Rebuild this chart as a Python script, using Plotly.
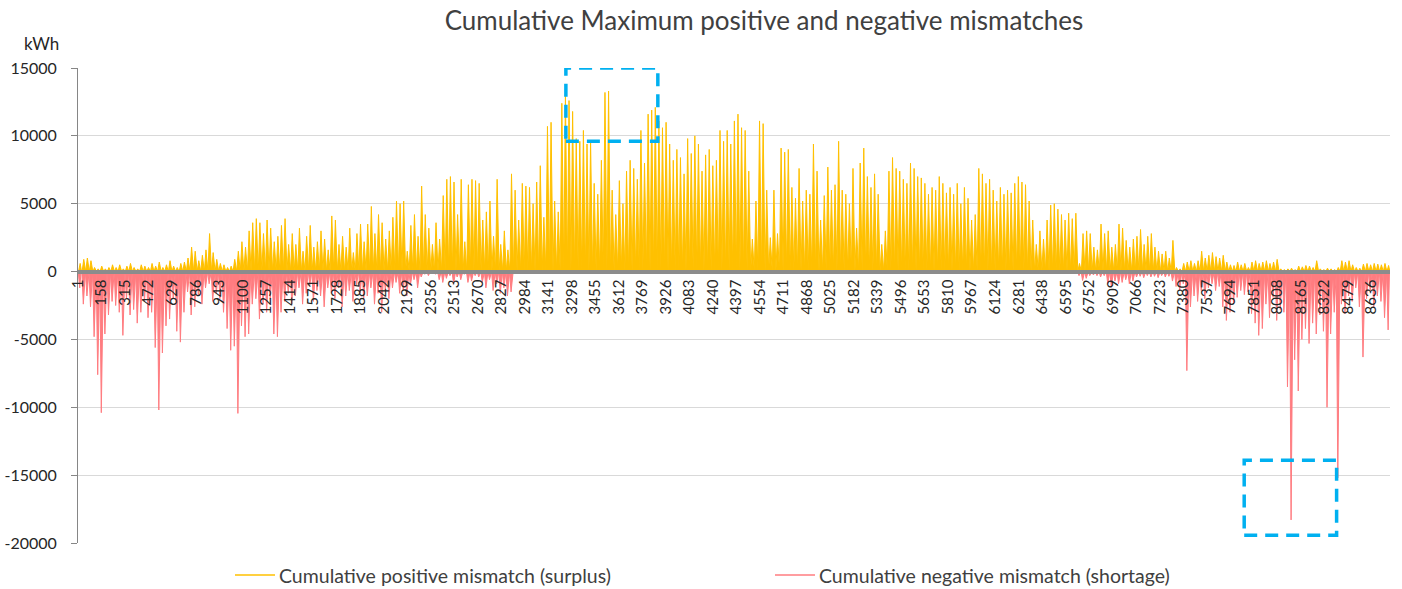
import plotly.graph_objects as go

# Daily peak of the cumulative positive mismatch (surplus), kWh, one value per day of the year
surplus_daily_peak = [
    600, 900, 1000, 800, 300, 200, 400, 200, 300, 500,
    300, 500, 200, 400, 600, 300, 200, 500, 400, 300,
    600, 400, 700, 300, 500, 800, 400, 300, 600, 700,
    1000, 1800, 1500, 800, 1200, 1600, 2800, 1400, 900, 600,
    500, 300, 400, 900, 1500, 2200, 1800, 3000, 3600, 3900,
    3600, 2800, 3800, 3200, 2200, 2600, 3400, 3900, 2000, 2800,
    2000, 3200, 1500, 2600, 3400, 1800, 2200, 3000, 2400, 1600,
    4100, 3800, 2000, 2600, 1800, 3200, 1400, 2800, 3500, 2200,
    3500, 4800, 2800, 4200, 3600, 2400, 3000, 4000, 5200, 5000,
    5200, 1500, 3400, 4200, 2600, 6300, 4200, 3200, 2000, 3600,
    2400, 5600, 6800, 7000, 6600, 4200, 6800, 2200, 6400, 6800,
    6700, 6500, 3800, 4400, 5200, 2600, 6800, 2000, 3000, 1600,
    7200, 6000, 3800, 6500, 6300, 6200, 5000, 6600, 7800, 4000,
    10700, 11000, 5200, 4400, 12400, 13100, 12600, 11800, 9800, 9600,
    10400, 9400, 9600, 6500, 5700, 8200, 13200, 13300, 6000, 4200,
    6700, 5000, 7400, 8200, 7600, 6800, 10400, 8000, 11600, 11900,
    12100, 11100, 10600, 11000, 9400, 8200, 9000, 8400, 7200, 9800,
    8700, 10000, 9400, 7400, 8600, 9000, 7800, 8200, 10400, 9600,
    10400, 9400, 11100, 11600, 10600, 10400, 7400, 2400, 5200, 11100,
    10900, 6000, 2500, 6000, 2800, 9100, 8800, 9000, 6200, 5400,
    7600, 5200, 6000, 5700, 9400, 7400, 3800, 5600, 7700, 6000,
    6400, 9600, 6000, 5700, 5000, 7600, 3200, 8000, 9100, 7000,
    6200, 7200, 5700, 2000, 3000, 7400, 8400, 7600, 7400, 6800,
    6500, 8000, 7600, 7000, 6900, 6500, 5700, 6200, 6000, 7000,
    6500, 5800, 6200, 5700, 6500, 5000, 6200, 5400, 3800, 4200,
    7600, 7200, 6500, 6800, 6000, 5200, 6200, 5700, 6000, 5800,
    6500, 7000, 6600, 6400, 5200, 3800, 2000, 3000, 2400, 3800,
    4900, 5000, 4600, 4200, 3800, 4300, 3900, 4300, 600, 2800,
    3000, 2800, 1800, 1600, 3500, 2800, 3000, 1800, 2000, 3500,
    3200, 2300, 1800, 2400, 2600, 3100, 2000, 2600, 2800, 1800,
    1500, 1300, 1500, 1000, 2300, 300, 200, 600, 700, 800,
    600, 800, 1500, 1000, 1200, 1400, 1100, 1000, 1200, 700,
    500, 450, 700, 500, 600, 300, 700, 800, 600, 700,
    800, 600, 700, 900, 200, 150, 200, 250, 150, 400,
    350, 450, 400, 300, 800, 200, 150, 250, 200, 150,
    300, 800, 700, 800, 500, 300, 250, 550, 600, 500,
    600, 550, 500, 600, 450,
]

# Daily peak of the cumulative negative mismatch (shortage), kWh, one value per day of the year
shortage_daily_peak = [
    -1200, -2400, -1800, -2600, -4800, -7600, -10400, -4600, -3200, -2200,
    -2500, -3000, -4700, -2000, -3200, -2800, -3800, -3000, -2200, -3400,
    -3000, -5600, -10200, -6000, -4000, -3500, -2000, -4400, -5200, -3000,
    -1500, -3200, -2600, -1800, -2400, -1200, -900, -2200, -1600, -2000,
    -3000, -4200, -5800, -5500, -10450, -4000, -4800, -4600, -2400, -2000,
    -3500, -2400, -3000, -2000, -4600, -4800, -3000, -2200, -1600, -2400,
    -1800, -1200, -2400, -1600, -1000, -2200, -1400, -1800, -2600, -1200,
    -1600, -2000, -1200, -2600, -1800, -1400, -2200, -1000, -1600, -2000,
    -1800, -1200, -2400, -1600, -3000, -1400, -2000, -1200, -800, -1600,
    -1400, -1800, -1000, -600, -1200, -400, -200, -300, -100, -200,
    -600, -800, -500, -300, -900, -400, -600, -200, -800, -700,
    -300, -400, -800, -1200, -600, -1400, -900, -1600, -1200, -1800,
    -1500, 0, 0, 0, 0, 0, 0, 0, 0, 0,
    0, 0, 0, 0, 0, 0, 0, 0, 0, 0,
    0, 0, 0, 0, 0, 0, 0, 0, 0, 0,
    0, 0, 0, 0, 0, 0, 0, 0, 0, 0,
    0, 0, 0, 0, 0, 0, 0, 0, 0, 0,
    0, 0, 0, 0, 0, 0, 0, 0, 0, 0,
    0, 0, 0, 0, 0, 0, 0, 0, 0, 0,
    0, 0, 0, 0, 0, 0, 0, 0, 0, 0,
    0, 0, 0, 0, 0, 0, 0, 0, 0, 0,
    0, 0, 0, 0, 0, 0, 0, 0, 0, 0,
    0, 0, 0, 0, 0, 0, 0, 0, 0, 0,
    0, 0, 0, 0, 0, 0, 0, 0, 0, 0,
    0, 0, 0, 0, 0, 0, 0, 0, 0, 0,
    0, 0, 0, 0, 0, 0, 0, 0, 0, 0,
    0, 0, 0, 0, 0, 0, 0, 0, 0, 0,
    0, 0, 0, 0, 0, 0, 0, 0, -300, -660,
    -500, -300, -250, -300, -400, -300, -900, -1150, -700, -900,
    -800, -600, -900, -700, -400, -350, -450, -300, -400, -350,
    -450, -300, -400, -350, -700, -1100, -1400, -900, -7300, -2600,
    -1800, -2200, -1400, -2000, -1200, -900, -1400, -1100, -2600, -3600,
    -3000, -2400, -1900, -1400, -1700, -1500, -3100, -3800, -4700, -4200,
    -2400, -3400, -1900, -3600, -2800, -3000, -8500, -18300, -6500, -8800,
    -5000, -4200, -5300, -3800, -4600, -3200, -4400, -10000, -4600, -3000,
    -15200, -2400, -3100, -1800, -2200, -1200, -2600, -6300, -2000, -1400,
    -2600, -1800, -2200, -3400, -4300,
]

HOURS_IN_YEAR = 8760
HOURS_PER_DAY = 24

# Hour-axis category labels (every 157th hour, starting at hour 1)
hour_tick_values = list(range(1, HOURS_IN_YEAR + 1, 157))
hour_tick_labels = [str(h) for h in hour_tick_values]

# Value-axis ticks
kwh_tick_values = [15000, 10000, 5000, 0, -5000, -10000, -15000, -20000]
kwh_tick_labels = ["15000", "10000", "5000", "0", "-5000", "-10000", "-15000", "-20000"]

# Series names shown in the legend row
series_names = [
    "Cumulative positive mismatch (surplus)",
    "Cumulative negative mismatch (shortage)",
]

# Highlighted regions (hour range, kWh range)
highlight_regions = [
    {"hours": (3258, 3872), "kwh": (9600, 15000)},
    {"hours": (7787, 8404), "kwh": (-19430, -13910)},
]

SURPLUS_COLOR = "#FFC000"
SHORTAGE_COLOR = "#FF7C80"
HIGHLIGHT_COLOR = "#00B0F0"
FONT = "Lato, 'Open Sans', sans-serif"

# Each day is drawn as a rise-and-return profile: zero, the day's peak, zero.
SURPLUS_PROFILE_HOURS = (3, 14, 23)
SHORTAGE_PROFILE_HOURS = (1, 11, 20)

# Plot-area geometry in pixels
W, H = 1402, 589
M_L, M_R, M_T, M_B = 78, 12, 68, 46
PLOT_W = W - M_L - M_R
PLOT_H = H - M_T - M_B


def px_x(px):
    return (px - M_L) / PLOT_W


def px_y(py):
    return (H - M_B - py) / PLOT_H


def daily_profile(peaks, profile_hours):
    xs, ys = [], []
    for day, peak in enumerate(peaks):
        start, top, end = (day * HOURS_PER_DAY + h + 1 for h in profile_hours)
        xs += [start, top, end]
        ys += [0, peak, 0]
    return xs, ys


sx, sy = daily_profile(surplus_daily_peak, SURPLUS_PROFILE_HOURS)
nx, ny = daily_profile(shortage_daily_peak, SHORTAGE_PROFILE_HOURS)

fig = go.Figure()

fig.add_trace(go.Scatter(
    x=sx, y=sy, mode="lines", line=dict(color=SURPLUS_COLOR, width=1),
    fill="tozeroy", fillcolor=SURPLUS_COLOR, name=series_names[0],
    showlegend=False, hoverinfo="skip",
))
fig.add_trace(go.Scatter(
    x=nx, y=ny, mode="lines", line=dict(color=SHORTAGE_COLOR, width=1),
    fill="tozeroy", fillcolor=SHORTAGE_COLOR, name=series_names[1],
    showlegend=False, hoverinfo="skip",
))

for region in highlight_regions:
    fig.add_shape(
        type="rect", xref="x", yref="y",
        x0=region["hours"][0], x1=region["hours"][1],
        y0=region["kwh"][0], y1=region["kwh"][1],
        line=dict(color=HIGHLIGHT_COLOR, width=3.5, dash="13px,8px"),
        fillcolor="rgba(0,0,0,0)", layer="above",
    )

# Legend row below the plot: line sample followed by the series name
annotations = []
legend_row_y = px_y(575)
for name, color, sample_left in zip(series_names, [SURPLUS_COLOR, SHORTAGE_COLOR], [235, 775]):
    fig.add_shape(
        type="line", xref="paper", yref="paper",
        x0=px_x(sample_left), x1=px_x(sample_left + 40),
        y0=legend_row_y, y1=legend_row_y,
        line=dict(color=color, width=1.5),
    )
    annotations.append(dict(
        text=name, xref="paper", yref="paper",
        x=px_x(sample_left + 42), y=legend_row_y,
        xanchor="left", yanchor="middle", showarrow=False,
        font=dict(family=FONT, size=19.5, color="#404040"),
    ))

annotations.append(dict(
    text="kWh", xref="paper", yref="paper",
    x=px_x(41), y=px_y(43),
    xanchor="center", yanchor="middle", showarrow=False,
    font=dict(family=FONT, size=17, color="#262626"),
))

y_min, y_max = -20000, 15000

fig.update_layout(
    width=W, height=H,
    margin=dict(l=M_L, r=M_R, t=M_T, b=M_B, autoexpand=False),
    paper_bgcolor="white", plot_bgcolor="white",
    font=dict(family=FONT, color="#262626"),
    showlegend=False,
    title=dict(
        text="Cumulative Maximum positive and negative mismatches",
        font=dict(family=FONT, size=26, color="#404040"),
        x=764 / W, xanchor="center", xref="container",
        y=1 - 21 / H, yanchor="middle", yref="container",
    ),
    xaxis=dict(
        range=[0.5, HOURS_IN_YEAR + 0.5],
        tickmode="array", tickvals=hour_tick_values, ticktext=hour_tick_labels,
        tickangle=-90, tickfont=dict(family=FONT, size=15, color="#262626"),
        anchor="free", position=(0 - y_min) / (y_max - y_min),
        showline=True, linecolor="#8C8C8C", linewidth=4,
        showgrid=False, zeroline=False, ticks="", automargin=False,
    ),
    yaxis=dict(
        range=[y_min, y_max],
        tickmode="array", tickvals=kwh_tick_values, ticktext=kwh_tick_labels,
        tickfont=dict(family=FONT, size=16, color="#262626"),
        showgrid=True, gridcolor="#D9D9D9", gridwidth=1,
        showline=True, linecolor="#868686", linewidth=1,
        ticks="outside", ticklen=6, tickcolor="#868686",
        zeroline=False, ticklabelstandoff=11, automargin=False,
    ),
    annotations=annotations,
)

fig.write_html("out.html")
